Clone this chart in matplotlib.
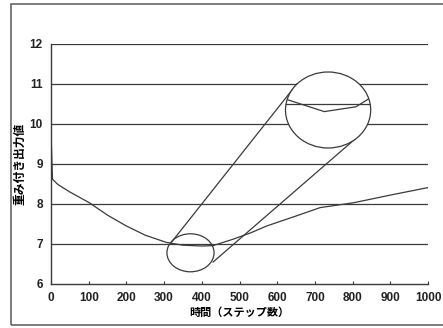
import numpy as np
import matplotlib
matplotlib.use("Agg")
import matplotlib.pyplot as plt
from matplotlib.patches import Ellipse, Rectangle

plt.rcParams["font.family"] = ["Liberation Sans", "Noto Sans CJK JP", "DejaVu Sans"]

# main series
steps = [0, 4, 18, 50, 102, 150, 200, 250, 306, 350, 400, 430, 483, 530, 572, 650, 714, 802, 909, 1000]
output = [9.78, 8.62, 8.49, 8.30, 8.03, 7.72, 7.45, 7.22, 7.04, 6.97, 6.95, 6.96, 7.12, 7.28, 7.45, 7.70, 7.91, 8.03, 8.24, 8.41]

# magnified view drawn inside the big circle
zoom_x = [600, 623, 725, 809, 841, 870]
zoom_y = [10.70, 10.62, 10.31, 10.43, 10.62, 10.70]
zoom_ref = 10.5

# circles: (center x, center y, width, height) in data units
small_circle = (370, 6.78, 125, 0.95)
big_circle = (735, 10.35, 226, 1.90)

# connector lines between the circles
conn1_x, conn1_y = [320, 652], [7.05, 11.0]
conn2_x, conn2_y = [430, 806], [6.55, 9.62]

xticks = list(range(0, 1001, 100))
yticks = list(range(6, 13))

INK = "#3a3a3a"

fig = plt.figure(figsize=(4.43, 3.28), dpi=100)
ax = fig.add_axes([51 / 443, 1 - 284 / 328, 377 / 443, 240 / 328])

for y in yticks[1:]:
    ax.plot([0, 1000], [y, y], color=INK, lw=0.9, zorder=1)

ax.plot(steps, output, color=INK, lw=0.9, zorder=3)

ax.add_patch(Ellipse(small_circle[:2], small_circle[2], small_circle[3],
                     fill=False, ec=INK, lw=0.9, zorder=4))
big = Ellipse(big_circle[:2], big_circle[2], big_circle[3],
              fc="white", ec=INK, lw=0.9, zorder=4)
ax.add_patch(big)

ln, = ax.plot([500, 900], [zoom_ref, zoom_ref], color=INK, lw=0.9, zorder=5)
ln.set_clip_path(big)
cv, = ax.plot(zoom_x, zoom_y, color=INK, lw=0.9, zorder=5)
cv.set_clip_path(big)

ax.plot(conn1_x, conn1_y, color=INK, lw=0.9, zorder=3)
ax.plot(conn2_x, conn2_y, color=INK, lw=0.9, zorder=3)

ax.set_xlim(0, 1000)
ax.set_ylim(6, 12)
ax.set_xticks(xticks)
ax.set_yticks(yticks)
ax.tick_params(axis="x", direction="in", length=2, width=0.8, color=INK, pad=6, labelsize=8.5)
ax.tick_params(axis="y", length=0, pad=6, labelsize=8.5)
for t in ax.get_xticklabels() + ax.get_yticklabels():
    t.set_fontweight("bold")
    t.set_color("#222222")

for s in ["top", "right"]:
    ax.spines[s].set_visible(False)
for s in ["left", "bottom"]:
    ax.spines[s].set_color(INK)
    ax.spines[s].set_linewidth(1.0)

ax.set_xlabel("時間（ステップ数）", family=["Noto Sans CJK JP"], fontsize=8,
              fontweight="bold", labelpad=1)
ax.set_ylabel("重み付き出力値", family=["Noto Sans CJK JP"], fontsize=8.5,
              fontweight="bold", labelpad=2)

fig.patches.append(Rectangle((11 / 443, 3 / 328), 1.0, 321 / 328,
                             transform=fig.transFigure, fill=False,
                             ec="#666666", lw=1.2))

fig.savefig("out.png", dpi=100)
